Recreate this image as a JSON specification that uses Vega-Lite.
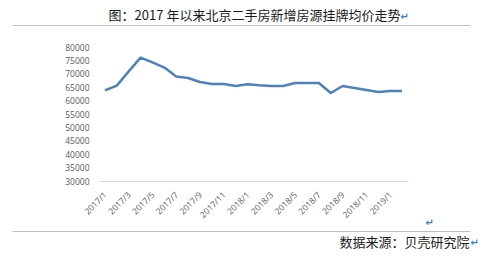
{
  "$schema": "https://vega.github.io/schema/vega-lite/v6.json",
  "autosize": {"type": "none"},
  "padding": {"left": 99, "top": 47, "right": 91, "bottom": 79},
  "width": 309,
  "height": 134,
  "background": "white",
  "config": {"view": {"stroke": null}, "font": "Open Sans"},
  "title": {
    "text": "图：2017 年以来北京二手房新增房源挂牌均价走势",
    "font": "Noto Sans CJK SC",
    "fontSize": 13,
    "fontWeight": "normal",
    "color": "#1a1a1a",
    "anchor": "middle",
    "frame": "group",
    "offset": 3,
    "dx": 1,
    "dy": 15
  },
  "resolve": {"scale": {"x": "independent", "y": "independent"}, "axis": {"x": "independent", "y": "independent"}},
  "layer": [
    {
      "data": {"values": [
        {"month": "2017/1", "price": 63840},
        {"month": "2017/2", "price": 65590},
        {"month": "2017/3", "price": 70900},
        {"month": "2017/4", "price": 76040},
        {"month": "2017/5", "price": 74290},
        {"month": "2017/6", "price": 72310},
        {"month": "2017/7", "price": 68950},
        {"month": "2017/8", "price": 68430},
        {"month": "2017/9", "price": 66940},
        {"month": "2017/10", "price": 66190},
        {"month": "2017/11", "price": 66190},
        {"month": "2017/12", "price": 65440},
        {"month": "2018/1", "price": 66080},
        {"month": "2018/2", "price": 65700},
        {"month": "2018/3", "price": 65440},
        {"month": "2018/4", "price": 65440},
        {"month": "2018/5", "price": 66560},
        {"month": "2018/6", "price": 66560},
        {"month": "2018/7", "price": 66560},
        {"month": "2018/8", "price": 62830},
        {"month": "2018/9", "price": 65440},
        {"month": "2018/10", "price": 64700},
        {"month": "2018/11", "price": 63950},
        {"month": "2018/12", "price": 63200},
        {"month": "2019/1", "price": 63580},
        {"month": "2019/2", "price": 63580}
      ]},
      "mark": {"type": "line", "color": "#4f81bd", "strokeWidth": 2.5, "strokeJoin": "round"},
      "encoding": {
        "x": {
          "field": "month", "type": "ordinal", "sort": null,
          "scale": {"type": "point", "padding": 0.5},
          "axis": {
            "values": ["2017/1","2017/3","2017/5","2017/7","2017/9","2017/11","2018/1","2018/3","2018/5","2018/7","2018/9","2018/11","2019/1"],
            "labelAngle": -45,
            "labelAlign": "right",
            "labelBaseline": "middle",
            "labelFont": "Open Sans",
            "labelFontSize": 8.5,
            "labelColor": "#595959",
            "labelPadding": 12,
            "ticks": false,
            "domainColor": "#d9d9d9",
            "domainWidth": 1,
            "grid": false,
            "title": "数据来源：贝壳研究院",
            "titleFont": "Noto Sans CJK SC",
            "titleFontSize": 13,
            "titleFontWeight": "normal",
            "titleColor": "#1a1a1a",
            "titleAlign": "right",
            "titleBaseline": "middle",
            "titleAnchor": null,
            "titleX": 370,
            "titleY": 61
          }
        },
        "y": {
          "field": "price", "type": "quantitative",
          "scale": {"domain": [30000, 80000], "nice": false, "zero": false},
          "axis": {
            "values": [30000,35000,40000,45000,50000,55000,60000,65000,70000,75000,80000],
            "format": "d",
            "labelFont": "Open Sans",
            "labelFontSize": 8.5,
            "labelColor": "#595959",
            "labelPadding": 10,
            "ticks": false,
            "domain": false,
            "grid": false,
            "title": "↵",
            "titleFont": "DejaVu Sans",
            "titleFontSize": 10,
            "titleFontWeight": "bold",
            "titleColor": "#3c78d8",
            "titleAngle": 0,
            "titleAlign": "center",
            "titleBaseline": "middle",
            "titleAnchor": null,
            "titleX": 330,
            "titleY": 175
          }
        }
      }
    },
    {
      "data": {"values": [{"a": 0}, {"a": 1}]},
      "mark": {"type": "point", "opacity": 0},
      "encoding": {
        "x": {
          "field": "a", "type": "quantitative",
          "scale": {"domain": [0, 1], "range": [-87, 371]},
          "axis": {
            "orient": "top", "offset": 22, "labels": false, "ticks": false, "grid": false,
            "domainColor": "#bfbfbf", "domainWidth": 1, "title": null
          }
        }
      }
    },
    {
      "data": {"values": [{"b": 0}, {"b": 1}]},
      "mark": {"type": "point", "opacity": 0},
      "encoding": {
        "x": {
          "field": "b", "type": "quantitative",
          "scale": {"domain": [0, 1], "range": [-87, 371]},
          "axis": {
            "orient": "bottom", "offset": 50, "labels": false, "ticks": false, "grid": false,
            "domainColor": "#bfbfbf", "domainWidth": 1,
            "title": "↵",
            "titleFont": "DejaVu Sans",
            "titleFontSize": 10,
            "titleFontWeight": "bold",
            "titleColor": "#3c78d8",
            "titleAlign": "center",
            "titleBaseline": "middle",
            "titleAnchor": null,
            "titleX": 375,
            "titleY": 11
          }
        },
        "y": {
          "field": "b", "type": "quantitative",
          "scale": {"domain": [0, 1]},
          "axis": {
            "orient": "right", "labels": false, "ticks": false, "grid": false, "domain": false,
            "title": "↵",
            "titleFont": "DejaVu Sans",
            "titleFontSize": 10,
            "titleFontWeight": "bold",
            "titleColor": "#3c78d8",
            "titleAngle": 0,
            "titleAlign": "center",
            "titleBaseline": "middle",
            "titleAnchor": null,
            "titleX": -4,
            "titleY": -31
          }
        }
      }
    }
  ]
}
